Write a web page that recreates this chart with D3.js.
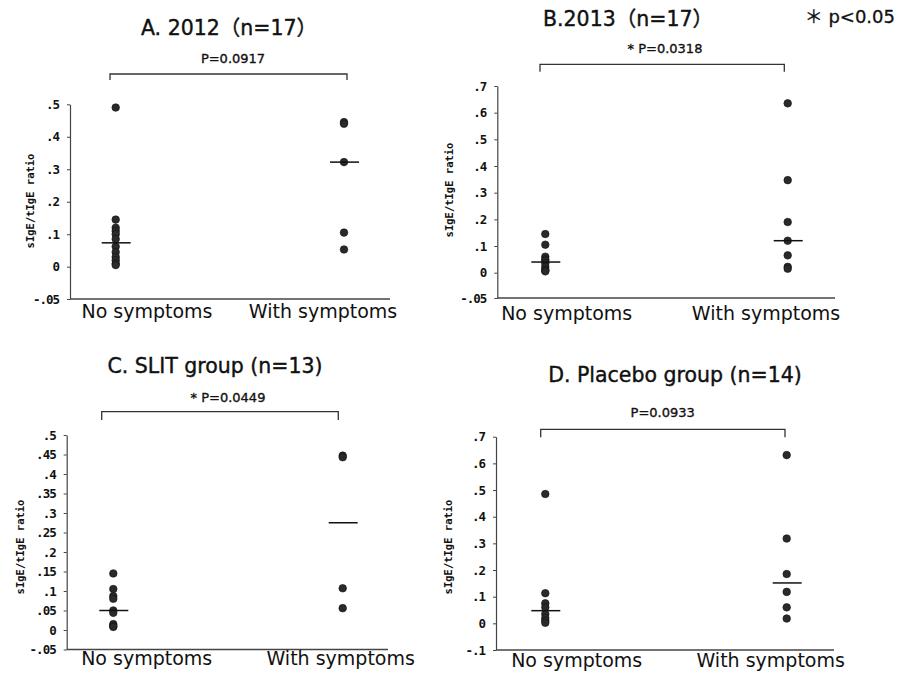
<!DOCTYPE html>
<html>
<head>
<meta charset="utf-8">
<script src="https://cdn.jsdelivr.net/npm/d3@7"></script>
<style>
  html, body { margin: 0; padding: 0; background: #fff; }
  svg { display: block; }
  .title { font-family: "DejaVu Sans", "Noto Sans CJK JP", sans-serif; font-weight: 400; fill: #111; stroke: #111; stroke-width: 0.4px; }
  .note { font-family: "DejaVu Sans", "Noto Sans CJK JP", sans-serif; font-weight: 400; fill: #111; stroke: #111; stroke-width: 0.3px; }
  .pval { font-family: "DejaVu Sans", sans-serif; font-weight: 400; fill: #111; stroke: #111; stroke-width: 0.35px; }
  .xlab { font-family: "DejaVu Sans", Verdana, sans-serif; fill: #111; }
  .ylab { font-family: "DejaVu Sans Mono", "Liberation Mono", monospace; font-weight: bold; fill: #111; }
  .tick text { font-family: "DejaVu Sans Mono", "Liberation Mono", monospace; font-weight: bold; font-size: 12.5px; letter-spacing: -1px; fill: #111; }
</style>
</head>
<body>
<svg id="chart" width="898" height="674"></svg>
<script>
// Groups compared in every panel
const groups = ["No symptoms", "With symptoms"];

// Panel titles and Mann-Whitney p-values
const panelTitles = ["A. 2012（n=17）", "B.2013（n=17）", "C. SLIT group (n=13)", "D. Placebo group (n=14)"];
const pLabels = ["P=0.0917", "* P=0.0318", "* P=0.0449", "P=0.0933"];
const significanceNote = "＊ p<0.05";

// sIgE/tIgE ratio per subject
const a2012No   = [0.49, 0.145, 0.12, 0.11, 0.10, 0.085, 0.062, 0.045, 0.03, 0.02, 0.01, 0.005];
const a2012With = [0.445, 0.44, 0.322, 0.105, 0.053];
const b2013No   = [0.145, 0.105, 0.06, 0.05, 0.045, 0.035, 0.022, 0.012, 0.008, 0.005];
const b2013With = [0.635, 0.347, 0.19, 0.12, 0.065, 0.022, 0.015];
const slitNo    = [0.145, 0.105, 0.087, 0.08, 0.05, 0.044, 0.015, 0.01, 0.008];
const slitWith  = [0.447, 0.443, 0.107, 0.056];
const placeboNo   = [0.485, 0.113, 0.075, 0.06, 0.035, 0.02, 0.01, 0.002];
const placeboWith = [0.631, 0.318, 0.185, 0.118, 0.06, 0.018];

// Y-axis tick values per panel
const ticksA = [-0.05, 0, 0.1, 0.2, 0.3, 0.4, 0.5];
const ticksB = [-0.05, 0, 0.1, 0.2, 0.3, 0.4, 0.5, 0.6, 0.7];
const ticksC = [-0.05, 0, 0.05, 0.1, 0.15, 0.2, 0.25, 0.3, 0.35, 0.4, 0.45, 0.5];
const ticksD = [-0.1, 0, 0.1, 0.2, 0.3, 0.4, 0.5, 0.6, 0.7];

const yLabel = "sIgE/tIgE ratio";

// Panel frames (pixel layout). yDomain/yRange may be polylinear: the
// lowest tick of panels A and B sits one full step below zero.
const layout = [
  { ax: 70,  right: 390, yDomain: [-0.05, 0, 0.5], yRange: [299, 266.7, 104.3],
    dotX: [115.7, 344], labX: [147, 323], labY: 318, titleX: 229, titleY: 35, pX: 233, pY: 63,
    br: [110, 347, 74, 80], ylX: 30, ylY: 201, data: [a2012No, a2012With], ticks: ticksA },
  { ax: 497.3, right: 835, yDomain: [-0.05, 0, 0.7], yRange: [298, 272.7, 86],
    dotX: [545.3, 787.7], labX: [566.7, 766], labY: 320, titleX: 628, titleY: 26, pX: 665, pY: 53,
    br: [540, 784.3, 64.3, 71.7], ylX: 449, ylY: 190, data: [b2013No, b2013With], ticks: ticksB },
  { ax: 66.7, right: 388, yDomain: [-0.05, 0.5], yRange: [649.5, 435],
    dotX: [113.3, 342.7], labX: [146.7, 340.7], labY: 665, titleX: 215, titleY: 373, pX: 228, pY: 401.7,
    br: [101.7, 338.3, 411.7, 420], ylX: 20, ylY: 547, data: [slitNo, slitWith], ticks: ticksC },
  { ax: 496, right: 834, yDomain: [-0.1, 0.7], yRange: [650, 436.7],
    dotX: [545.3, 786.7], labX: [576.7, 770.7], labY: 666.7, titleX: 675, titleY: 381.7, pX: 662.7, pY: 417.3,
    br: [540.7, 785, 429.3, 437.3], ylX: 448, ylY: 547, data: [placeboNo, placeboWith], ticks: ticksD }
];

const svg = d3.select("#chart");

// ".5", "-.05", "0" style tick labels
const fmt = d => d === 0 ? "0" : (d < 0 ? "-" : "") + String(Math.abs(d)).replace(/^0\./, ".");

layout.forEach((p, i) => {
  const g = svg.append("g");
  const y = d3.scaleLinear().domain(p.yDomain).range(p.yRange);
  const x = d3.scalePoint().domain(groups).range(p.dotX);
  const yBottom = p.yRange[0];

  // Y axis
  const yAxis = d3.axisLeft(y).tickValues(p.ticks).tickFormat(fmt).tickSize(3).tickSizeOuter(0).tickPadding(8);
  const ya = g.append("g").attr("transform", `translate(${p.ax},0)`).call(yAxis);
  ya.attr("font-size", null).attr("font-family", null);
  ya.select(".domain").attr("stroke", "#444").attr("stroke-width", 1.2);
  ya.selectAll(".tick line").attr("stroke", "#444");

  // X baseline
  g.append("line")
    .attr("x1", p.ax).attr("x2", p.right)
    .attr("y1", yBottom).attr("y2", yBottom)
    .attr("stroke", "#444").attr("stroke-width", 1.4);

  // Y label
  g.append("text").attr("class", "ylab")
    .attr("transform", `translate(${p.ylX},${p.ylY}) rotate(-90)`)
    .attr("text-anchor", "middle").attr("dy", "0.35em")
    .attr("font-size", 10.5)
    .text(yLabel);

  // Group labels
  groups.forEach((gr, k) => {
    g.append("text").attr("class", "xlab")
      .attr("x", p.labX[k]).attr("y", p.labY)
      .attr("text-anchor", "middle").attr("font-size", 19)
      .text(gr);
  });

  // Points
  groups.forEach((gr, k) => {
    g.append("g").selectAll("circle")
      .data(p.data[k]).join("circle")
      .attr("cx", x(gr)).attr("cy", d => y(d))
      .attr("r", 3.8)
      .attr("fill", "#2a2a2a").attr("stroke", "#111").attr("stroke-width", 0.6);
  });

  // Median bars
  groups.forEach((gr, k) => {
    const m = d3.median(p.data[k]);
    g.append("line")
      .attr("x1", x(gr) - 14).attr("x2", x(gr) + 15)
      .attr("y1", y(m)).attr("y2", y(m))
      .attr("stroke", "#111").attr("stroke-width", 1.5);
  });

  // Comparison bracket
  const [bx1, bx2, by1, by2] = p.br;
  g.append("path")
    .attr("d", `M${bx1},${by2}V${by1}H${bx2}V${by2}`)
    .attr("fill", "none").attr("stroke", "#333").attr("stroke-width", 1.3);

  g.append("text").attr("class", "pval")
    .attr("x", p.pX).attr("y", p.pY)
    .attr("text-anchor", "middle").attr("font-size", 13)
    .text(pLabels[i]);

  g.append("text").attr("class", "title")
    .attr("x", p.titleX).attr("y", p.titleY)
    .attr("text-anchor", "middle").attr("font-size", 20.5)
    .text(panelTitles[i]);
});

svg.append("text").attr("class", "note")
  .attr("x", 895).attr("y", 23)
  .attr("text-anchor", "end").attr("font-size", 18)
  .text(significanceNote);
</script>
</body>
</html>
